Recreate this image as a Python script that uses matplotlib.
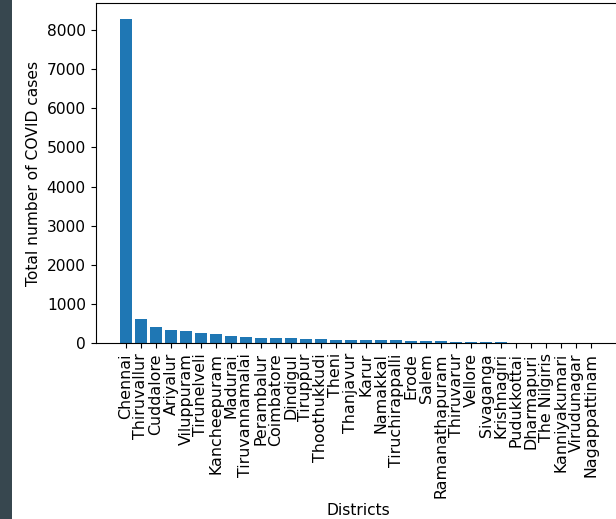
import matplotlib.pyplot as plt
from matplotlib.patches import Rectangle

districts = ["Chennai", "Thiruvallur", "Cuddalore", "Ariyalur", "Viluppuram",
             "Tirunelveli", "Kancheepuram", "Madurai", "Tiruvannamalai", "Perambalur",
             "Coimbatore", "Dindigul", "Tiruppur", "Thoothukkudi", "Theni",
             "Thanjavur", "Karur", "Namakkal", "Tiruchirappalli", "Erode",
             "Salem", "Ramanathapuram", "Thiruvarur", "Vellore", "Sivaganga",
             "Krishnagiri", "Pudukkottai", "Dharmapuri", "The Nilgiris", "Kanniyakumari",
             "Virudunagar", "Nagappattinam"]
cases = [8280, 615, 417, 335, 318,
         248, 222, 170, 154, 140,
         138, 128, 113, 104, 88,
         80, 75, 71, 65, 60,
         50, 42, 36, 30, 25,
         15, 6, 5, 4, 3,
         2, 1]

fig = plt.figure(figsize=(6.16, 5.19), dpi=100)
# dark sidebar on the left edge
fig.patches.append(Rectangle((0, 0), 12 / 616, 1, transform=fig.transFigure,
                             facecolor="#37474f", edgecolor="none"))

ax = fig.add_axes([96 / 616, 1 - 343 / 519, 525 / 616, 340 / 519])
ax.bar(districts, cases, color="#1f77b4")
ax.set_xticks(range(len(districts)))
ax.set_xticklabels(districts, rotation=90, fontsize=11.4)
ax.tick_params(axis="y", labelsize=11.2)
ax.tick_params(length=3.8)
ax.set_xlabel("Districts", fontsize=11.2)
ax.set_ylabel("Total number of COVID cases", fontsize=11.2)

fig.savefig("out.png", dpi=100)
